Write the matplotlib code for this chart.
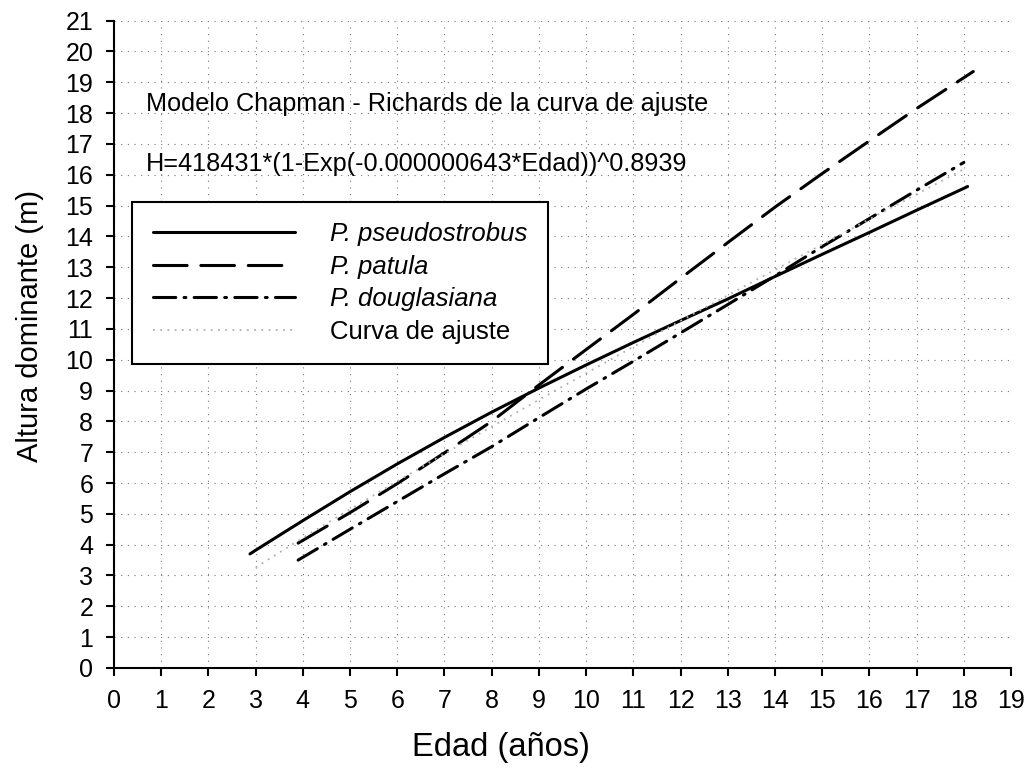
import numpy as np
import matplotlib
matplotlib.use("Agg")
import matplotlib.pyplot as plt

plt.rcParams["font.family"] = ["Liberation Sans", "DejaVu Sans"]

# dominant height (m) by age (years) for each species
age_pseudo = [2.88, 3, 4, 5, 6, 7, 8, 9, 10, 11, 12, 13, 14, 15, 16, 17, 18, 18.08]
h_pseudo = [3.70, 3.82, 4.78, 5.72, 6.62, 7.48, 8.30, 9.08, 9.83, 10.56, 11.27,
            11.97, 12.70, 13.42, 14.13, 14.85, 15.56, 15.62]

age_patula = [3.9, 4, 5, 6, 7, 8, 9, 10, 11, 12, 13, 14, 15, 16, 17, 18, 18.2]
h_patula = [4.05, 4.14, 5.04, 5.98, 6.98, 8.00, 9.18, 10.33, 11.47, 12.64, 13.80,
            14.95, 16.04, 17.10, 18.15, 19.15, 19.35]

age_dougl = [3.9, 4, 5, 6, 7, 8, 9, 10, 11, 12, 13, 14, 15, 16, 17, 18]
h_dougl = [3.50, 3.59, 4.50, 5.40, 6.30, 7.18, 8.12, 9.05, 9.95, 10.87, 11.79,
           12.72, 13.67, 14.58, 15.50, 16.40]

age_fit = [3, 4, 5, 6, 7, 8, 9, 10, 11, 12, 13, 14, 15, 16, 17, 18]
h_fit = [3.26, 4.22, 5.15, 6.06, 6.95, 7.83, 8.70, 9.56, 10.42, 11.26, 12.09,
         12.92, 13.74, 14.56, 15.37, 16.18]

labels = ["P. pseudostrobus", "P. patula", "P. douglasiana", "Curva de ajuste"]

fig = plt.figure(figsize=(10.28, 7.74), dpi=100)
ax = fig.add_axes([0.1109, 0.137, 0.8726, 0.8363])

lw = 2.2
ax.plot(age_pseudo, h_pseudo, color="black", lw=lw, ls="-",
        solid_capstyle="round", label=labels[0])
ax.plot(age_patula, h_patula, color="black", lw=lw, ls=(0, (11, 4.5)),
        dash_capstyle="round", label=labels[1])
ax.plot(age_dougl, h_dougl, color="black", lw=lw, ls=(0, (7.3, 2.7, 0.6, 2.7)),
        dash_capstyle="round", label=labels[2])
ax.plot(age_fit, h_fit, color="#b0b0b0", lw=1.3, ls=(0, (1, 3)),
        label=labels[3])

ax.set_xlim(0, 19)
ax.set_ylim(0, 21)
ax.set_xticks(np.arange(0, 20))
ax.set_yticks(np.arange(0, 22))
ax.grid(True, color="#777777", lw=0.8, ls=(0, (1, 5)))
ax.set_axisbelow(True)

for s in ("top", "right"):
    ax.spines[s].set_visible(False)
for s in ("left", "bottom"):
    ax.spines[s].set_linewidth(1.5)
ax.tick_params(direction="out", length=6, width=1.5, labelsize=18)
ax.tick_params(axis="x", pad=9)
ax.tick_params(axis="y", pad=9)

ax.text(0.68, 18.3, "Modelo Chapman - Richards de la curva de ajuste",
        fontsize=18.2, va="center", ha="left")
ax.text(0.68, 16.35, "H=418431*(1-Exp(-0.000000643*Edad))^0.8939",
        fontsize=18.2, va="center", ha="left")

leg = ax.legend(loc="upper left", bbox_to_anchor=(0.02, 0.72), fontsize=18.5,
                handlelength=5.56, handletextpad=1.35, labelspacing=0.33,
                borderpad=0.8, borderaxespad=0, fancybox=False, framealpha=1,
                edgecolor="black")
leg.get_frame().set_linewidth(1.5)
for t in leg.get_texts()[:3]:
    t.set_fontstyle("italic")

fig.text(0.487, 0.034, "Edad (años)", fontsize=23.5, ha="center", va="center")
fig.text(0.029, 0.579, "Altura dominante (m)", fontsize=21, ha="center",
         va="center", rotation=90)

fig.savefig("out.png", dpi=100)
